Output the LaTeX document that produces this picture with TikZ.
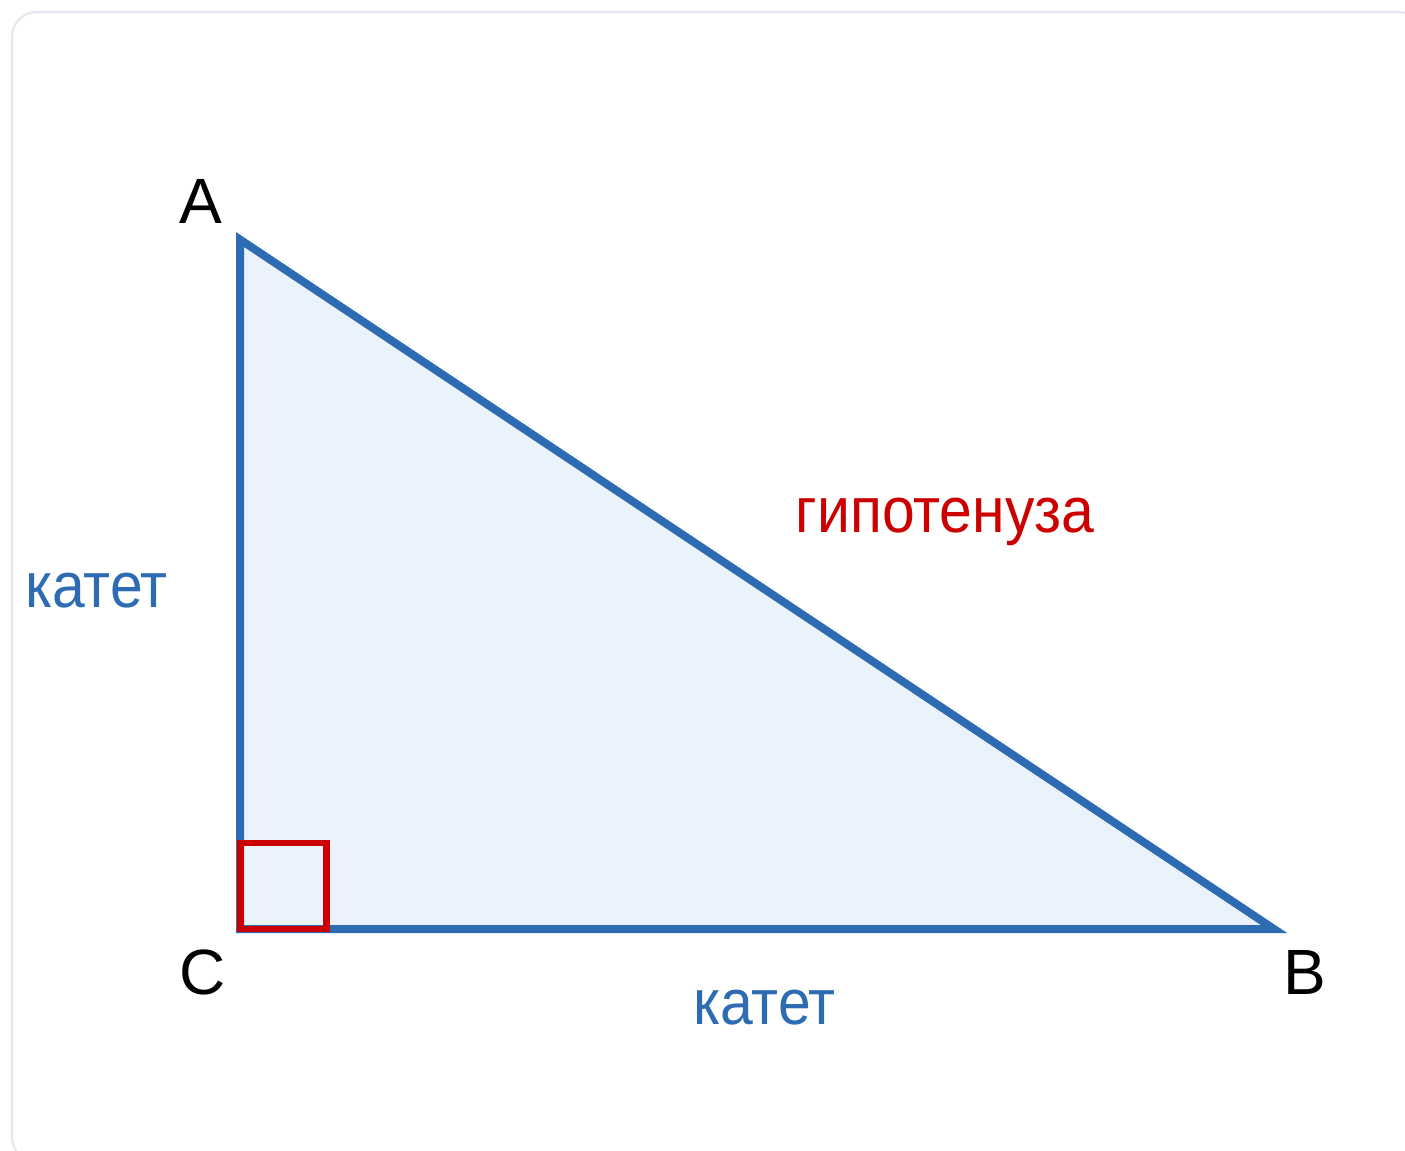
\documentclass[tikz,border=0pt]{standalone}
\usepackage{fontspec}
\setmainfont{Liberation Sans}
\definecolor{triblue}{HTML}{2D6CB3}
\definecolor{trifill}{HTML}{EAF2FB}
\definecolor{trired}{HTML}{CC0000}
\definecolor{cardline}{HTML}{E2E7F0}
\newcommand{\narrowtxt}[1]{\scalebox{0.92}[1]{#1}}
\begin{document}
\begin{tikzpicture}[x=0.5pt,y=-0.5pt,
  lbl/.style={inner sep=0pt,anchor=base,font=\fontsize{32}{38}\selectfont},
  vertexlbl/.style={lbl,text=black},
  leglbl/.style={lbl,text=triblue},
  hyplbl/.style={lbl,text=trired}]
\useasboundingbox (0,0) rectangle (1405,1151);
\clip (0,0) rectangle (1405,1151);
\fill[white] (0,0) rectangle (1405,1151);
\draw[cardline,line width=1pt,rounded corners=12.5pt] (12,12) rectangle (1423,1162);
\coordinate (A) at (240,239.5);
\coordinate (C) at (240,929);
\coordinate (B) at (1274,929);
\coordinate (Q1) at (240.5,843);
\coordinate (Q2) at (326.5,929);
\filldraw[fill=trifill,draw=triblue,line width=4pt,line join=miter] (A) -- (B) -- (C) -- cycle;
\draw[trired,line width=3.25pt] (Q1) rectangle (Q2);
\node[vertexlbl] (lA) at (201,223) {A};
\node[vertexlbl] (lC) at (203,994) {C};
\node[vertexlbl] (lB) at (1305,994) {B};
\node[leglbl] (k1) at (96.5,607) {\narrowtxt{катет}};
\node[leglbl] (k2) at (764.5,1024) {\narrowtxt{катет}};
\node[hyplbl] (h) at (945,532) {\narrowtxt{гипотенуза}};
\end{tikzpicture}
\end{document}
